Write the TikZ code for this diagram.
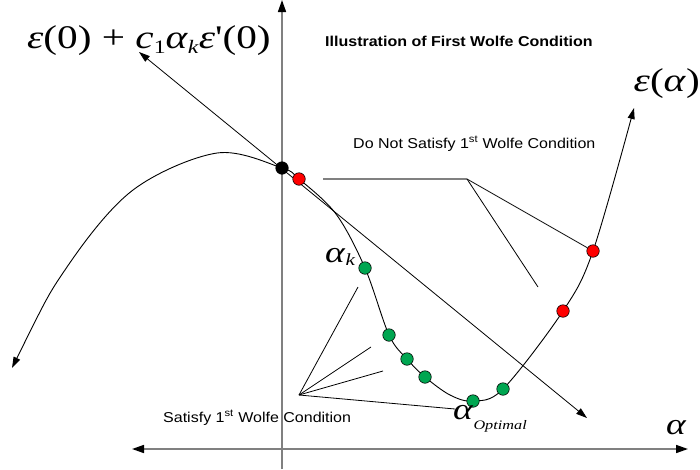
\documentclass[tikz,border=0pt]{standalone}
\usepackage{fontspec}
\setmainfont{Liberation Sans}
\newfontfamily\lbl[FakeStretch=1.12]{Liberation Sans}
\newfontfamily\tms[Ligatures=TeXOff,FakeStretch=1.25]{Liberation Serif}
\usetikzlibrary{arrows.meta}
\definecolor{axgray}{RGB}{128,128,128}
\definecolor{dotgreen}{RGB}{0,166,81}
\definecolor{dotred}{RGB}{255,0,0}
\newcommand\sbs[3][5pt]{\raisebox{-#1}{\fontsize{#2}{#2}\selectfont #3}}
\begin{document}
\begin{tikzpicture}[x=1pt,y=-1pt,
  axis/.style={draw=axgray,line width=1.6pt},
  gline/.style={draw=axgray,line width=1.4pt},
  thinl/.style={draw=black,line width=0.8pt},
  bigtip/.tip={Triangle[length=12pt,width=8pt,color=black]},
  smtip/.tip={Triangle[length=11pt,width=7pt,color=black]},
  dot/.style={circle,draw=black,line width=0.6pt,minimum size=12.5pt,inner sep=0pt},
  sans/.style={font=\lbl\fontsize{14.3}{17}\selectfont,inner sep=0pt},
  sansb/.style={font=\lbl\bfseries\fontsize{14.3}{17}\selectfont,inner sep=0pt},
  mathl/.style={font=\tms\fontsize{33}{35}\selectfont,inner sep=0pt},
  mathm/.style={font=\tms\fontsize{30}{32}\selectfont,inner sep=0pt}]
\useasboundingbox (0,0) rectangle (700,469);
% axes
\coordinate (yb) at (282,469);
\coordinate (yt) at (282,0);
\coordinate (xl) at (132,449);
\coordinate (xr) at (688,449);
\draw[axis,-bigtip] (yb) -- (yt);
\draw[axis,bigtip-bigtip] (xl) -- (xr);
% sufficient decrease line
\coordinate (tl) at (139,52);
\coordinate (tr) at (587,418);
\draw[thinl,smtip-smtip] (tl) -- (tr);
% curve points
\coordinate (c0) at (12,368);
\coordinate (c1) at (67,267);
\coordinate (c2) at (133,190);
\coordinate (c3) at (217,153);
\coordinate (c4) at (282,168);
\coordinate (c5) at (299,179);
\coordinate (c6) at (336,214);
\coordinate (c7) at (365,268);
\coordinate (c8) at (389,335);
\coordinate (c9) at (407,359);
\coordinate (c10) at (425,377);
\coordinate (c11) at (450,395);
\coordinate (c12) at (473,401);
\coordinate (c13) at (503,389);
\coordinate (c14) at (563,311);
\coordinate (c15) at (593,251);
\coordinate (c16) at (634,108);
\draw[thinl,line width=0.9pt,smtip-smtip] plot[smooth,tension=0.55] coordinates {(c0) (c1) (c2) (c3) (c4) (c5) (c6) (c7) (c8) (c9) (c10) (c11) (c12) (c13) (c14) (c15) (c16)};
% dots
\node[dot,fill=black] (b0) at (c4) {};
\node[dot,fill=dotred] (r1) at (c5) {};
\node[dot,fill=dotgreen] (g1) at (c7) {};
\node[dot,fill=dotgreen] (g2) at (c8) {};
\node[dot,fill=dotgreen] (g3) at (c9) {};
\node[dot,fill=dotgreen] (g4) at (c10) {};
\node[dot,fill=dotgreen] (g5) at (c12) {};
\node[dot,fill=dotgreen] (g6) at (c13) {};
\node[dot,fill=dotred] (r2) at (c14) {};
\node[dot,fill=dotred] (r3) at (c15) {};
% pointer lines: do not satisfy
\coordinate (dn0) at (323,179);
\coordinate (dn1) at (467,179);
\coordinate (dn2) at (538,287);
\draw[gline] (dn0) -- (dn1);
\draw[thinl] (dn1) -- (r3);
\draw[thinl] (dn1) -- (dn2);
% pointer lines: satisfy
\coordinate (s0) at (299,395);
\coordinate (s1) at (358,287);
\coordinate (s2) at (371,347);
\coordinate (s3) at (383,371);
\coordinate (s4) at (455,409);
\draw[thinl] (s0) -- (s1);
\draw[thinl] (s0) -- (s2);
\draw[thinl] (s0) -- (s3);
\draw[thinl] (s0) -- (s4);
% labels
\node[sansb,anchor=base west] (title) at (325,46) {Illustration of First Wolfe Condition};
\node[sans,anchor=base west] (dnlbl) at (353,148) {Do Not Satisfy 1\textsuperscript{st} Wolfe Condition};
\node[sans,anchor=base west] (slbl) at (163,422) {Satisfy 1\textsuperscript{st} Wolfe Condition};
\node[mathl,anchor=base west] (linelbl) at (27,48) {\textit{ε}(0) + \textit{c}\sbs{19}{1}\textit{α}\sbs{19}{\textit{k}}\textit{ε}'(0)};
\node[mathl,anchor=base east] (epslbl) at (700,91) {\textit{ε}(\textit{α})};
\node[mathm,anchor=base west] (aklbl) at (325,262) {\textit{α}\sbs[3pt]{17}{\textit{k}}};
\node[mathm,anchor=base west] (aoptlbl) at (453,419) {\textit{α}\sbs[10pt]{13}{\textit{Optimal}}};
\node[mathm,anchor=base west] (axlbl) at (666,434) {\textit{α}};
\end{tikzpicture}
\end{document}
